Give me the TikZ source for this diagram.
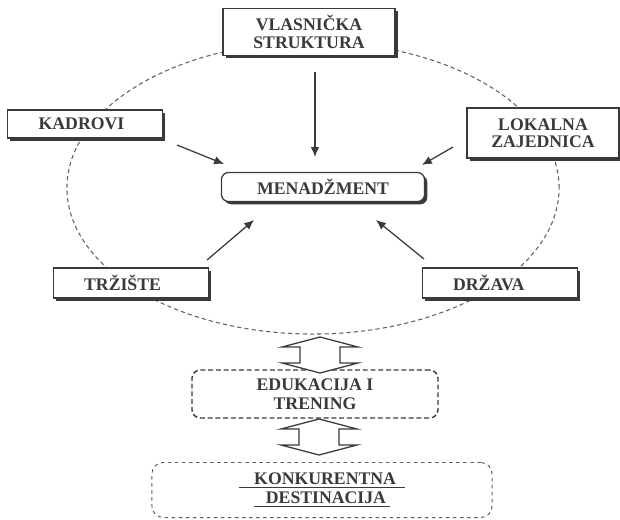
\documentclass[tikz,border=0pt]{standalone}
\usepackage{fontspec}
\setmainfont{Liberation Serif}
\usetikzlibrary{shapes.geometric,shadows,arrows.meta}

\definecolor{ink}{HTML}{3A3A3A}
\definecolor{ringgray}{HTML}{606060}

\tikzset{
  box/.style={draw=ink, line width=0.9pt, fill=white, text=ink, align=center,
    inner sep=0pt, font=\bfseries\fontsize{12.6}{12.3}\selectfont,
    drop shadow={shadow xshift=2pt, shadow yshift=-2pt, fill=ink, opacity=1}},
  softbox/.style={draw=ink, fill=white, text=ink, align=center, inner sep=0pt,
    rounded corners=6pt, font=\bfseries\fontsize{12.6}{13.5}\selectfont},
  ring/.style={ellipse, draw=ringgray, line width=0.75pt,
    dash pattern=on 3pt off 2.2pt, inner sep=0pt},
  twoway/.pic={
    \draw[ink, line width=0.9pt, fill=white, line join=miter]
      (0,-18) -- (38,-8) -- (20,-8) -- (20,8) -- (38,8) -- (0,18)
      -- (-38,8) -- (-20,8) -- (-20,-8) -- (-38,-8) -- cycle;
  },
  feed/.style={draw=ink, line width=0.9pt, -{Latex[length=7pt,width=6pt]}}
}

\begin{document}
\begin{tikzpicture}[x=0.025cm, y=-0.025cm]
  \useasboundingbox (0,0) rectangle (620,520);

  % the dashed ring behind the boxes
  \node[ring, minimum width=12.3cm, minimum height=7.3cm] (ring) at (313,188) {};

  \begin{scope}[every node/.style={box}]
    \node[minimum width=4.3cm,   minimum height=1.175cm] (vlas)    at (309,32)  {VLASNIČKA\\STRUKTURA};
    \node[minimum width=3.875cm, minimum height=0.7cm]   (kadrovi) at (85,124)  {KADROVI\kern5pt};
    \node[minimum width=3.8cm,   minimum height=1.25cm]  (lokalna) at (543,133) {LOKALNA\\ZAJEDNICA};
    \node[minimum width=5.075cm, minimum height=0.725cm, rounded corners=5pt] (menad) at (323,187) {MENADŽMENT};
    \node[minimum width=3.875cm, minimum height=0.75cm]  (trziste) at (131,283) {TRŽIŠTE\kern12pt};
    \node[minimum width=3.875cm, minimum height=0.75cm]  (drzava)  at (500,283) {DRŽAVA\kern16pt};
  \end{scope}

  \node[softbox, line width=1pt, dash pattern=on 3.5pt off 2pt,
        minimum width=6.15cm, minimum height=1.2cm] (edu) at (315,394) {EDUKACIJA I\\TRENING};
  \node[softbox, draw=ringgray, line width=0.7pt, dash pattern=on 2.5pt off 2.5pt,
        rounded corners=8pt, minimum width=8.5cm, minimum height=1.375cm] (konk) at (322,490)
        {\underline{\hspace{0.85em}KONKURENTNA\hspace{0.5em}}\\\underline{\hspace{0.7em}DESTINACIJA\hspace{0.25em}}};

  % arrow ends
  \coordinate (vlas-a)    at (315,72);
  \coordinate (vlas-b)    at (315,157);
  \coordinate (kadrovi-a) at (177,145);
  \coordinate (kadrovi-b) at (224,164);
  \coordinate (lokalna-a) at (453,147);
  \coordinate (lokalna-b) at (422,165);
  \coordinate (trziste-a) at (207,260);
  \coordinate (trziste-b) at (254,220);
  \coordinate (drzava-a)  at (424,259);
  \coordinate (drzava-b)  at (376,220);

  \begin{scope}[every edge/.style={feed}]
    \path (vlas-a)    edge (vlas-b);
    \path (kadrovi-a) edge (kadrovi-b);
    \path (lokalna-a) edge (lokalna-b);
    \path (trziste-a) edge (trziste-b);
    \path (drzava-a)  edge (drzava-b);
  \end{scope}

  % two-way links between the ring, the training box and the goal
  \pic at (320,355) {twoway};
  \pic at (319,437) {twoway};

\end{tikzpicture}
\end{document}
